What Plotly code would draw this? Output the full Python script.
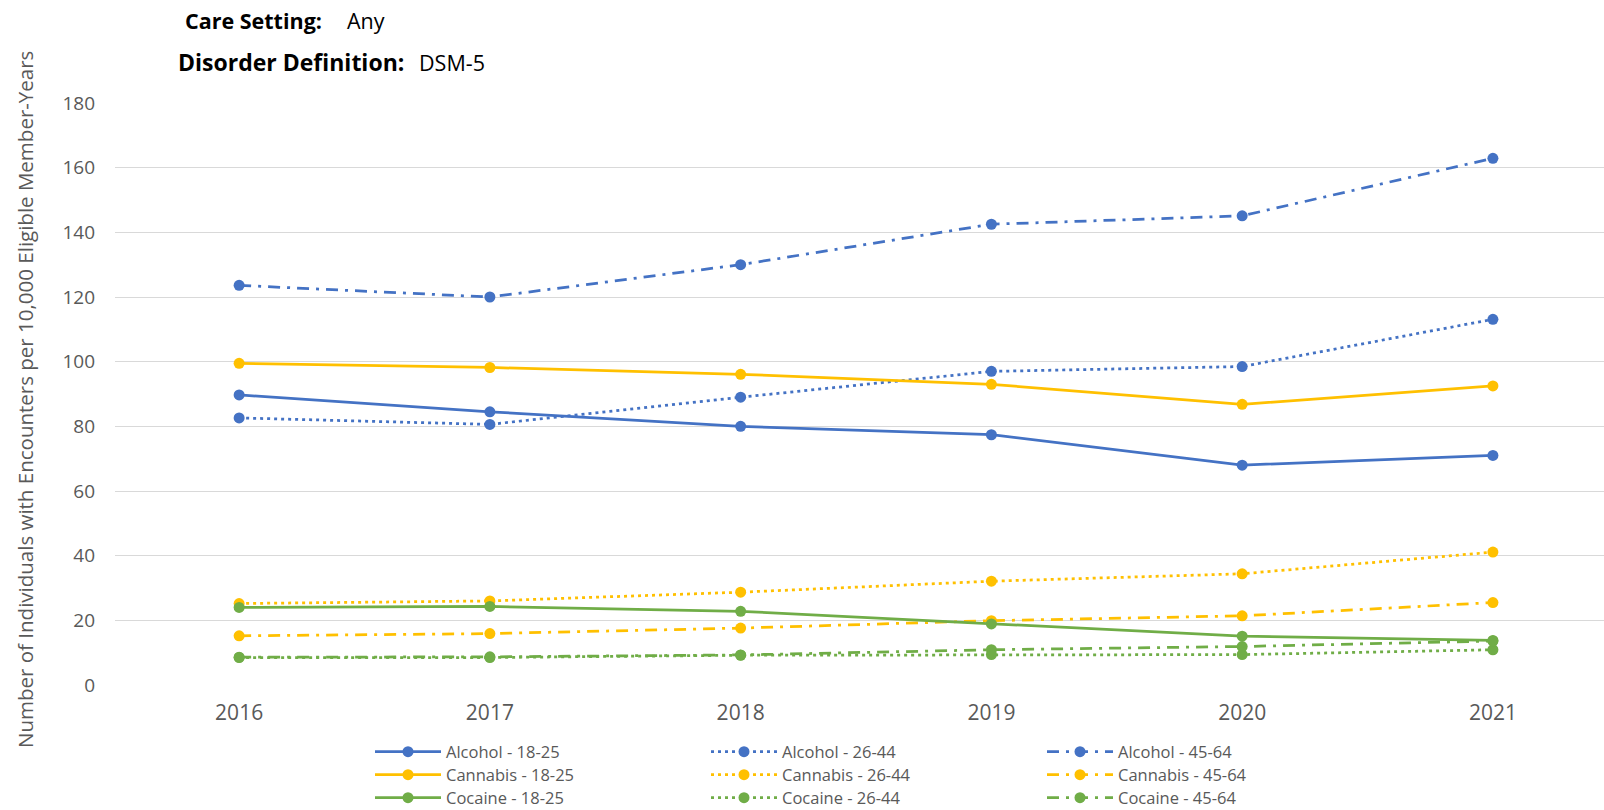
import plotly.graph_objects as go

years = ["2016", "2017", "2018", "2019", "2020", "2021"]

alcohol_18_25 = [89.7, 84.5, 80.0, 77.4, 68.0, 71.0]
alcohol_26_44 = [82.6, 80.6, 89.0, 97.0, 98.5, 113.1]
alcohol_45_64 = [123.6, 120.0, 130.0, 142.5, 145.1, 162.9]
cannabis_18_25 = [99.5, 98.2, 96.1, 93.0, 86.8, 92.5]
cannabis_26_44 = [25.2, 26.0, 28.7, 32.1, 34.4, 41.1]
cannabis_45_64 = [15.2, 15.9, 17.6, 19.9, 21.4, 25.5]
cocaine_18_25 = [24.0, 24.3, 22.8, 18.9, 15.1, 13.8]
cocaine_26_44 = [8.5, 8.5, 9.2, 9.4, 9.4, 10.9]
cocaine_45_64 = [8.6, 8.7, 9.3, 10.9, 11.9, 13.6]

y_ticks = [0, 20, 40, 60, 80, 100, 120, 140, 160, 180]

BLUE = "#4472C4"
GOLD = "#FFC000"
GREEN = "#70AD47"
DOT = "3px,4px"
DASHDOT = "12px,7px,3px,7px"

series = [
    ("Alcohol - 18-25", alcohol_18_25, BLUE, "solid", "legend"),
    ("Alcohol - 26-44", alcohol_26_44, BLUE, DOT, "legend"),
    ("Alcohol - 45-64", alcohol_45_64, BLUE, DASHDOT, "legend"),
    ("Cannabis - 18-25", cannabis_18_25, GOLD, "solid", "legend2"),
    ("Cannabis - 26-44", cannabis_26_44, GOLD, DOT, "legend2"),
    ("Cannabis - 45-64", cannabis_45_64, GOLD, DASHDOT, "legend2"),
    ("Cocaine - 18-25", cocaine_18_25, GREEN, "solid", "legend3"),
    ("Cocaine - 26-44", cocaine_26_44, GREEN, DOT, "legend3"),
    ("Cocaine - 45-64", cocaine_45_64, GREEN, DASHDOT, "legend3"),
]

fig = go.Figure()
for name, vals, color, dash, leg in series:
    fig.add_trace(go.Scatter(
        x=years, y=vals, name=name, mode="lines+markers",
        line=dict(color=color, width=2.75, dash=dash),
        marker=dict(color=color, size=11, symbol="circle"),
        legend=leg,
    ))

FONT = "Open Sans, Noto Sans, sans-serif"
W, H = 1604, 810
L, R, T, B = 115, 0, 103, 125
pw = W - L - R
ph = H - T - B


def px_x(px):
    return (px - L) / pw


def px_y(py):
    return (H - B - py) / ph


def row_legend(yc):
    return dict(
        orientation="h",
        xref="container", yref="container",
        x=370 / W, y=1 - yc / H,
        xanchor="left", yanchor="middle",
        entrywidth=255, entrywidthmode="pixels",
        itemwidth=66,
        maxheight=80,
        font=dict(family=FONT, size=16.5, color="#595959"),
        bgcolor="rgba(0,0,0,0)",
    )


fig.update_layout(
    width=W, height=H,
    margin=dict(l=L, r=R, t=T, b=B, pad=0),
    paper_bgcolor="white", plot_bgcolor="white",
    font=dict(family=FONT, color="#595959"),
    showlegend=True,
    legend=row_legend(752),
    legend2=row_legend(775),
    legend3=row_legend(798),
    xaxis=dict(
        type="category",
        range=[-0.495, 5.443],
        showgrid=False, zeroline=False, showline=False,
        tickfont=dict(family=FONT, size=21, color="#595959"),
        ticks="", ticklabelstandoff=13,
        automargin=False,
        fixedrange=True,
    ),
    yaxis=dict(
        range=[0, 180],
        tickvals=y_ticks,
        showgrid=True, gridcolor="#D9D9D9", gridwidth=1,
        zeroline=False, showline=False,
        tickfont=dict(family=FONT, size=19, color="#595959"),
        ticks="", ticklabelstandoff=19,
        automargin=False,
        fixedrange=True,
    ),
)

fig.add_annotation(
    text="Number of Individuals with Encounters per 10,000 Eligible Member-Years",
    xref="paper", yref="paper", x=px_x(25), y=px_y(400),
    textangle=-90, showarrow=False, xanchor="center", yanchor="middle",
    font=dict(family=FONT, size=20.5, color="#595959"),
)

header_labels = ["Care Setting:", "Disorder Definition:"]
header_values = ["Any", "DSM-5"]
label_x = [183, 176]
value_x = [345, 417]
row_y = [20, 62]
label_size = [21.5, 23]
for lab, val, lx, vx, ry, ls in zip(header_labels, header_values, label_x, value_x, row_y, label_size):
    fig.add_annotation(
        text="<b>" + lab + "</b>",
        xref="paper", yref="paper", x=px_x(lx), y=px_y(ry),
        showarrow=False, xanchor="left", yanchor="middle",
        font=dict(family=FONT, size=ls, color="#000000"),
    )
    fig.add_annotation(
        text=val,
        xref="paper", yref="paper", x=px_x(vx), y=px_y(ry),
        showarrow=False, xanchor="left", yanchor="middle",
        font=dict(family=FONT, size=21.5, color="#000000"),
    )

fig.write_html(
    "out.html",
    config={"displayModeBar": False},
    post_script="document.body.style.margin='0';document.body.style.overflow='hidden';",
)
